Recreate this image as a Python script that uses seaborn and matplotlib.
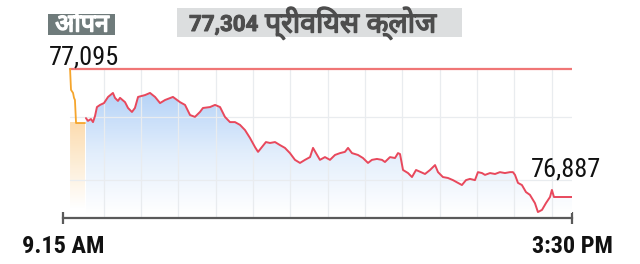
import numpy as np
import pandas as pd
import matplotlib
matplotlib.use("Agg")
import matplotlib.pyplot as plt
import matplotlib.patheffects as pe
import seaborn as sns
from matplotlib import font_manager as fm
from matplotlib.ft2font import FT2Font
from matplotlib.colors import LinearSegmentedColormap
from matplotlib.patches import Rectangle

# ---------------- data (minutes after 9:15, index points) ----------------
open_minutes = [5.2, 5.9, 7.4, 8.1, 8.8, 9.6, 16.2]
open_values = [77304, 77236, 77226, 77210, 77203, 77128, 77128]

trade_minutes = [16.9, 18.4, 20.6, 22.1, 23.6, 25.0, 27.3, 30.2, 33.2, 36.8,
                 38.3, 40.5, 42.0, 45.7, 47.9, 50.8, 53.0, 55.3, 60.4, 64.1,
                 67.8, 71.5, 75.2, 81.0, 86.2, 89.9, 93.6, 97.2, 100.9, 103.1,
                 108.3, 112.0, 115.7, 119.3, 123.0, 126.7, 130.4, 134.1, 137.8, 141.4,
                 143.7, 146.6, 149.5, 152.5, 156.2, 159.9, 163.5, 167.2, 170.9, 174.6,
                 178.3, 182.0, 184.2, 186.4, 189.3, 193.0, 196.7, 200.4, 204.1, 207.7,
                 210.0, 212.9, 217.3, 221.0, 224.7, 227.6, 231.3, 235.0, 237.2, 240.9,
                 244.6, 246.8, 248.3, 250.5, 254.2, 257.1, 260.1, 263.7, 266.7, 270.4,
                 274.1, 276.3, 279.9, 283.6, 287.3, 291.0, 293.9, 296.9, 299.8, 303.5,
                 305.7, 308.7, 310.9, 314.6, 318.3, 321.9, 325.6, 329.3, 331.5, 333.0,
                 335.2, 338.1, 341.1, 344.0, 347.7, 349.9, 352.9, 355.8, 358.8, 360.2,
                 361.7, 375.0]
trade_values = [77144, 77135, 77141, 77131, 77151, 77180, 77187, 77193, 77213, 77226,
                77210, 77200, 77210, 77196, 77177, 77164, 77177, 77213, 77219, 77226,
                77213, 77193, 77203, 77213, 77196, 77187, 77154, 77148, 77164, 77177,
                77180, 77187, 77180, 77148, 77131, 77131, 77122, 77105, 77079, 77050,
                77034, 77050, 77066, 77063, 77066, 77056, 77047, 77030, 77008, 76998,
                77008, 77017, 77047, 77030, 77008, 77017, 77008, 77024, 77030, 77034,
                77047, 77030, 77024, 77014, 76998, 77008, 77011, 77008, 77001, 77017,
                77014, 77030, 77027, 76975, 76965, 76952, 76975, 76968, 76962, 76975,
                76991, 76968, 76952, 76949, 76942, 76933, 76926, 76942, 76946, 76942,
                76968, 76965, 76959, 76965, 76962, 76968, 76965, 76968, 76968, 76959,
                76933, 76926, 76903, 76894, 76867, 76838, 76845, 76867, 76887, 76910,
                76887, 76887]

prev_close = 77304
open_label = "77,095"
last_label = "76,887"
x_tick_minutes = [0, 375]
x_tick_labels = ["9.15 AM", "3:30 PM"]
open_title = "ओपन"
prev_value_text = "77,304"
prev_title = "प्रीवियस क्लोज"
grid_minutes = [30, 57.5, 85, 112.5, 140, 167.5, 195, 222.5, 250, 277.5, 305, 332.5, 360]
grid_values = [77148, 76942]

# ---------------- fonts ----------------
sns.set_theme(style="white")


def fonts_with(ch):
    found = []
    for f in fm.fontManager.ttflist:
        try:
            if ord(ch) in FT2Font(f.fname).get_charmap():
                found.append(f.name)
        except Exception:
            pass
    return found


names = {f.name for f in fm.fontManager.ttflist}
deva_all = fonts_with("ओ")
deva = None
for pref in ["Noto Sans Devanagari", "Noto Sans Devanagari UI", "Lohit Devanagari",
             "Mukta", "Hind", "FreeSans", "Kalimati", "Gargi", "Samanata"]:
    if pref in deva_all:
        deva = pref
        break
if deva is None:
    sans = [n for n in deva_all if "Sans" in n and "Mono" not in n]
    nonmono = [n for n in deva_all if "Mono" not in n]
    deva = (sans or nonmono or deva_all or [None])[0]

narrow = None
for cand in ["Liberation Sans Narrow", "Roboto Condensed", "Arial Narrow", "Roboto"]:
    if cand in names:
        narrow = cand
        break
num_family = [narrow, "DejaVu Sans"] if narrow else ["DejaVu Sans"]
title_num = "Roboto" if "Roboto" in names else "DejaVu Sans"
hindi_family = ([deva] if deva else []) + ["DejaVu Sans"]
plt.rcParams["font.family"] = num_family

# ---------------- figure ----------------
W, H = 640, 264
fig = plt.figure(figsize=(W / 100, H / 100), dpi=100)
fig.patch.set_facecolor("white")
ax = fig.add_axes([63 / W, 46 / H, 509 / W, 158 / H])
ybottom, ytop = 76818.6, 77333.3

# grid (drawn above the gradient fill, below the lines)
for gm in grid_minutes:
    ax.plot([gm, gm], [ybottom, prev_close], color="#e9ecef", lw=0.9, zorder=1.5)
for gv in grid_values:
    ax.plot([open_minutes[0], 375], [gv, gv], color="#e9ecef", lw=0.9, zorder=1.5)


# gradient fills
def gradient_fill(xs, ys, colors, ylo, yhi, z):
    verts = [(xs[0], ybottom)] + list(zip(xs, ys)) + [(xs[-1], ybottom)]
    patch = plt.Polygon(verts, closed=True, transform=ax.transData,
                        facecolor="none", edgecolor="none", lw=0)
    ax.add_patch(patch)
    cmap = LinearSegmentedColormap.from_list("g", colors)
    grad = np.linspace(0, 1, 256).reshape(-1, 1)
    im = ax.imshow(grad, extent=[xs[0], xs[-1], ylo, yhi], origin="lower",
                   cmap=cmap, aspect="auto", zorder=z, interpolation="bilinear")
    im.set_clip_path(patch)


gradient_fill(trade_minutes, trade_values, ["#ffffff", "#e2eefc", "#b6d3f7"],
              76835, 77225, 1)
gradient_fill(open_minutes, open_values, ["#ffffff", "#fdeed8", "#fcdcb0"],
              76850, 77128, 1)

# previous close line
ax.plot([open_minutes[0], 375], [prev_close, prev_close], color="#f07676", lw=1.6, zorder=2)

# lines via seaborn
df_open = pd.DataFrame({"minute": open_minutes, "value": open_values})
df_trade = pd.DataFrame({"minute": trade_minutes, "value": trade_values})
sns.lineplot(data=df_open, x="minute", y="value", color="#f5a52c", lw=1.3,
             estimator=None, sort=False, ax=ax, zorder=3)
sns.lineplot(data=df_trade, x="minute", y="value", color="#e8485c", lw=1.4,
             estimator=None, sort=False, ax=ax, zorder=3)

ax.set_xlim(0, 375)
ax.set_ylim(ybottom, ytop)
ax.set_xlabel("")
ax.set_ylabel("")
ax.set_yticks([])
ax.yaxis.set_visible(False)
ax.grid(False)
for s in ["top", "right", "left"]:
    ax.spines[s].set_visible(False)
ax.spines["bottom"].set_color("#5a5a5a")
ax.spines["bottom"].set_linewidth(1.6)
ax.spines["bottom"].set_zorder(4)
ax.set_xticks(x_tick_minutes)
ax.set_xticklabels(x_tick_labels, fontsize=17.5, fontweight="bold",
                   color="#111111", family=num_family)
ax.tick_params(axis="x", direction="inout", length=8, width=1.6,
               color="#5a5a5a", pad=8, bottom=True)
ax.set_facecolor("none")


def px(x, y):
    return x / W, 1 - y / H


# labels
fig.text(*px(49, 64), open_label, fontsize=19, color="#111111",
         ha="left", va="baseline", family=num_family)
fig.text(*px(531, 177), last_label, fontsize=19, color="#111111",
         ha="left", va="baseline", family=num_family)

# title boxes
bold_white = [pe.withStroke(linewidth=1.1, foreground="white")]
bold_grey = [pe.withStroke(linewidth=1.0, foreground="#4d4d4d")]
bold_grey_num = [pe.withStroke(linewidth=0.7, foreground="#4d4d4d")]
fig.patches.append(Rectangle(px(48, 35), 67 / W, 21 / H, transform=fig.transFigure,
                             facecolor="#6f7b7b", edgecolor="none"))
fig.text(*px(82, 25), open_title, fontsize=18, color="white",
         ha="center", va="center", family=hindi_family, path_effects=bold_white)
fig.patches.append(Rectangle(px(177, 37), 285 / W, 29 / H, transform=fig.transFigure,
                             facecolor="#dcdedf", edgecolor="none"))
fig.text(*px(258, 31), prev_value_text, fontsize=16, fontweight="bold", color="#4d4d4d",
         ha="right", va="baseline", family=[title_num, "DejaVu Sans"],
         path_effects=bold_grey_num)
fig.text(*px(265, 23), prev_title, fontsize=20.5, color="#4d4d4d",
         ha="left", va="center", family=hindi_family, path_effects=bold_grey)

fig.savefig("out.png", dpi=100, facecolor="white")
